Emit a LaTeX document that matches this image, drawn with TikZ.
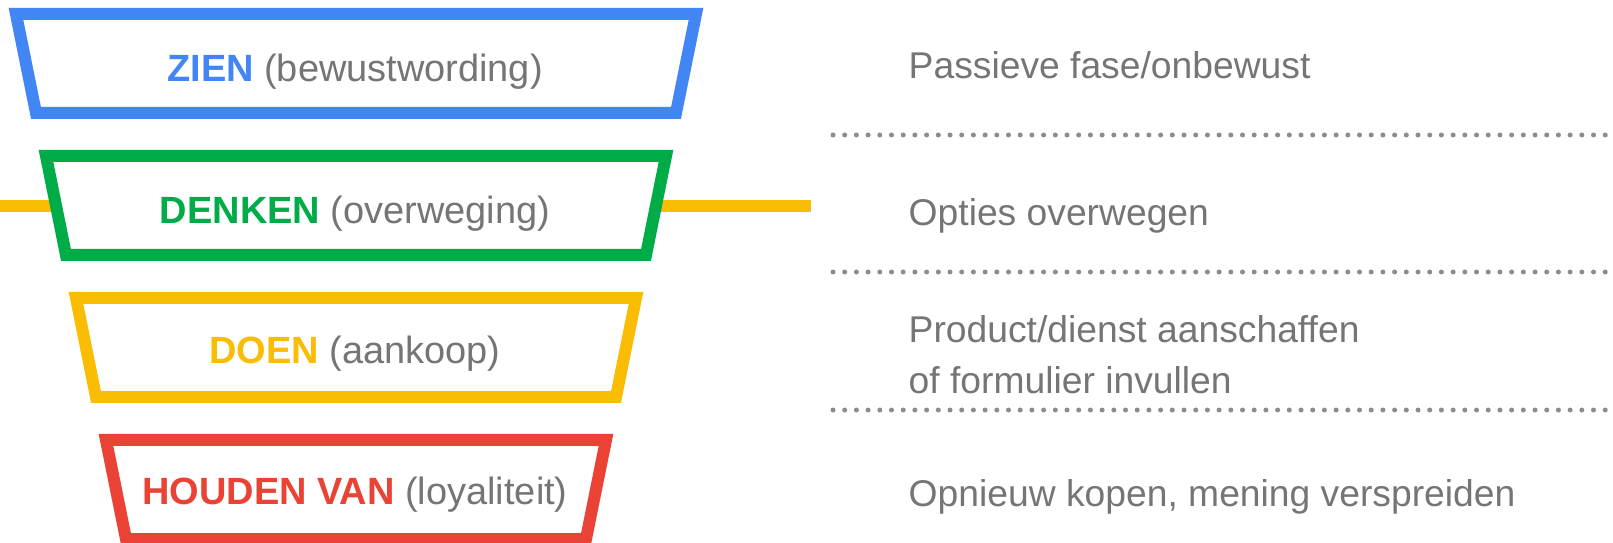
\documentclass[tikz,border=0pt]{standalone}
\usepackage{fontspec}
\setmainfont{Liberation Sans}
\usepackage{xcolor}
\usetikzlibrary{positioning}
\definecolor{zienblue}{HTML}{4285F4}
\definecolor{denkgreen}{HTML}{00AC47}
\definecolor{doenyellow}{HTML}{FBBC04}
\definecolor{houdred}{HTML}{EA4335}
\definecolor{txtgray}{HTML}{757575}
\definecolor{dotgray}{HTML}{8C8C8C}
\tikzset{
  stagebox/.style={
    line width=0.12cm,
    line join=miter,
    fill=white,
  },
  stagelbl/.style={
    font=\fontsize{10.8pt}{13pt}\selectfont,
    text=txtgray,
    anchor=base,
    inner sep=0pt,
  },
  notelbl/.style={
    font=\fontsize{10.6pt}{14.6pt}\selectfont,
    text=txtgray,
    anchor=base west,
    align=left,
    inner sep=0pt,
  },
  sepline/.style={
    draw=dotgray,
    line width=0.05cm,
    line cap=round,
    dash pattern=on 0pt off 0.117cm,
  },
  barline/.style={
    draw=doenyellow,
    line width=0.12cm,
  },
}

\begin{document}
\begin{tikzpicture}[x=1cm, y=1cm]
  \useasboundingbox (0,0) rectangle (16.13,-5.43);

  % Bar behind the second stage
  \coordinate (barw) at (0,-2.06);
  \coordinate (bare) at (8.11,-2.06);
  \draw[barline] (barw) -- (bare);

  % Funnel stages
  \draw[stagebox, draw=zienblue]   (0.16,-0.14) -- (6.96,-0.14) -- (6.76,-1.13) -- (0.36,-1.13) -- cycle;
  \draw[stagebox, draw=denkgreen]  (0.46,-1.56) -- (6.66,-1.56) -- (6.46,-2.55) -- (0.66,-2.55) -- cycle;
  \draw[stagebox, draw=doenyellow] (0.76,-2.98) -- (6.36,-2.98) -- (6.16,-3.97) -- (0.96,-3.97) -- cycle;
  \draw[stagebox, draw=houdred]    (1.06,-4.40) -- (6.06,-4.40) -- (5.86,-5.39) -- (1.26,-5.39) -- cycle;

  \node[stagelbl] (zien)   at (3.55,-0.82) {\textbf{\color{zienblue}ZIEN} (bewustwording)};
  \node[stagelbl] (denken) at (3.55,-2.24) {\textbf{\color{denkgreen}DENKEN} (overweging)};
  \node[stagelbl] (doen)   at (3.55,-3.64) {\textbf{\color{doenyellow}DOEN} (aankoop)};
  \node[stagelbl] (houden) at (3.55,-5.05) {\textbf{\color{houdred}HOUDEN VAN} (loyaliteit)};

  % Right column
  \node[notelbl] (passief)  at (9.08,-0.79) {Passieve fase/onbewust};
  \node[notelbl] (opties)   at (9.08,-2.26) {Opties overwegen};
  \node[notelbl] (aanschaf) at (9.08,-3.94) {Product/dienst aanschaffen\\of formulier invullen};
  \node[notelbl] (opnieuw)  at (9.08,-5.06) {Opnieuw kopen, mening verspreiden};

  \draw[sepline] (8.33,-1.35) -- (16.2,-1.35);
  \draw[sepline] (8.33,-2.72) -- (16.2,-2.72);
  \draw[sepline] (8.33,-4.10) -- (16.2,-4.10);
\end{tikzpicture}
\end{document}
